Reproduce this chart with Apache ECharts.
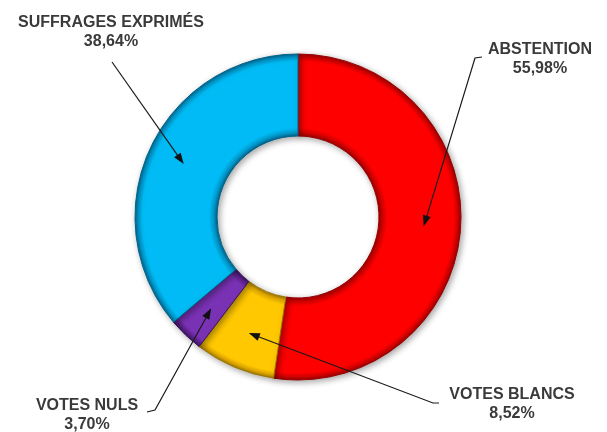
<!DOCTYPE html>
<html>
<head>
<meta charset="utf-8">
<script src="https://cdn.jsdelivr.net/npm/echarts@6/dist/echarts.min.js"></script>
<style>html,body{margin:0;padding:0;background:#fff;}#c{width:607px;height:432px;}</style>
</head>
<body>
<div id="c"></div>
<script>
// ---- data ----
const categories = ['ABSTENTION', 'VOTES BLANCS', 'VOTES NULS', 'SUFFRAGES EXPRIMÉS'];
const values = [55.98, 8.52, 3.70, 38.64];
const valueLabels = ['55,98%', '8,52%', '3,70%', '38,64%'];

// ---- styles / layout ----
const baseColors = ['#ff0000', '#ffc800', '#7a32b4', '#00bbf5'];
const darkColors = ['#9a0000', '#a07800', '#3e1460', '#00648c'];
const edgeColors = ['#d00000', '#e0a800', '#5a2088', '#0096c8'];
const CX = 298, CY = 217, R0 = 81, R1 = 163, TIP_R = 126;
// label centre and the two points of the leader line near the label
const labelPos = [
  {x: 540, y: 59, elbow: [475, 58], end: [482, 57]},
  {x: 512, y: 404, elbow: [433, 403], end: [439, 403]},
  {x: 87, y: 415, elbow: [155, 410], end: [147, 412]},
  {x: 111, y: 32, elbow: [112, 62], end: [112, 62]}
];

function ringGradient(i) {
  const a = R0 / R1;
  return {
    type: 'radial', x: CX, y: CY, r: R1, global: true,
    colorStops: [
      {offset: 0, color: darkColors[i]},
      {offset: a, color: darkColors[i]},
      {offset: a + 0.02, color: edgeColors[i]},
      {offset: a + 0.05, color: baseColors[i]},
      {offset: 0.955, color: baseColors[i]},
      {offset: 0.98, color: edgeColors[i]},
      {offset: 1, color: darkColors[i]}
    ]
  };
}

const chart = echarts.init(document.getElementById('c'), null, {renderer: 'canvas'});

const option = {
  backgroundColor: '#ffffff',
  animation: false,
  series: [{
    type: 'pie',
    center: [CX, CY],
    radius: [R0, R1],
    startAngle: 90,
    clockwise: true,
    avoidLabelOverlap: false,
    silent: true,
    itemStyle: {
      borderWidth: 1,
      shadowBlur: 6,
      shadowColor: 'rgba(0,0,0,0.35)',
      shadowOffsetX: 2,
      shadowOffsetY: 2
    },
    label: {
      show: true,
      position: 'outside',
      formatter: p => p.name + '\n' + valueLabels[p.dataIndex],
      fontFamily: 'Liberation Sans, Arial, sans-serif',
      fontWeight: 'bold',
      fontSize: 16,
      lineHeight: 19,
      color: '#3a3a3a',
      align: 'center'
    },
    labelLine: {show: false},
    labelLayout: function (params) {
      const lp = labelPos[params.dataIndex];
      return {x: lp.x, y: lp.y, align: 'center', verticalAlign: 'middle'};
    },
    data: categories.map((name, i) => ({
      name: name,
      value: values[i],
      itemStyle: {color: ringGradient(i), borderColor: darkColors[i]}
    }))
  }]
};

chart.setOption(option);

// leader lines with arrow heads, tips placed at each slice's mid-angle (from the pie layout)
const data = chart.getModel().getSeriesByIndex(0).getData();
const graphics = [];
values.forEach((v, i) => {
  const Lo = data.getItemLayout(i);
  const mid = (Lo.startAngle + Lo.endAngle) / 2;
  const t = [Lo.cx + TIP_R * Math.cos(mid), Lo.cy + TIP_R * Math.sin(mid)];
  const e = labelPos[i].elbow;
  let dx = t[0] - e[0], dy = t[1] - e[1];
  const len = Math.sqrt(dx * dx + dy * dy);
  dx /= len; dy /= len;
  const AL = 11, AW = 4;
  const bx = t[0] - dx * AL, by = t[1] - dy * AL;
  graphics.push({
    type: 'polyline',
    shape: {points: [[bx + dx * 2, by + dy * 2], e, labelPos[i].end]},
    style: {stroke: '#1a1a1a', lineWidth: 1.2, fill: null},
    z: 100
  });
  graphics.push({
    type: 'polygon',
    shape: {points: [t, [bx - dy * AW, by + dx * AW], [bx + dy * AW, by - dx * AW]]},
    style: {fill: '#111111'},
    z: 101
  });
});
chart.setOption({graphic: graphics});
</script>
</body>
</html>
